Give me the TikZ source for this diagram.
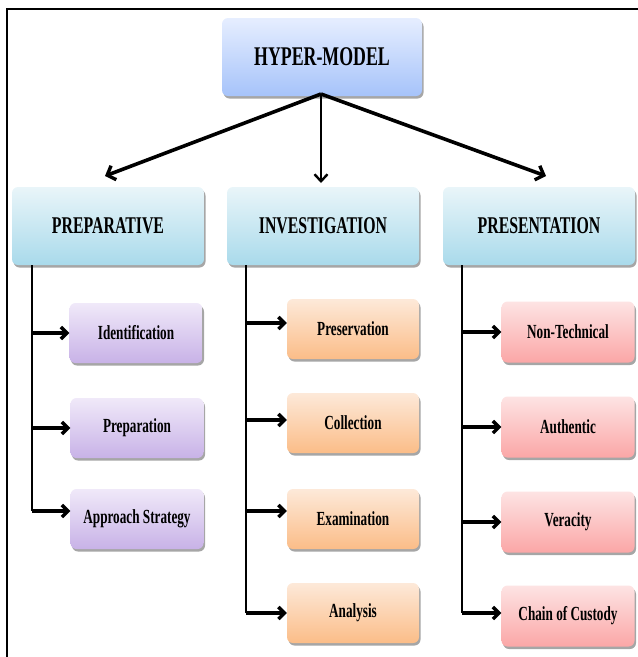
\documentclass[tikz,border=0pt]{standalone}
\usepackage{fontspec}
\setmainfont{Liberation Serif}[FakeStretch=0.66]
\usetikzlibrary{arrows.meta,shadows}
\definecolor{hmT}{HTML}{E6EEFF}\definecolor{hmB}{HTML}{A6C3FA}
\definecolor{lvT}{HTML}{E9F5F9}\definecolor{lvB}{HTML}{A9DAEB}
\definecolor{puT}{HTML}{F0E9F9}\definecolor{puB}{HTML}{C8B2E7}
\definecolor{orT}{HTML}{FDE9D9}\definecolor{orB}{HTML}{FBBD88}
\definecolor{pkT}{HTML}{FDE3E3}\definecolor{pkB}{HTML}{FBA6A6}
\tikzset{
  x=1pt,y=-1pt,
  card/.style={rounded corners=6pt, inner sep=0pt, font=\bfseries,
    drop shadow={shadow xshift=1.5pt, shadow yshift=-2.5pt, fill=black, opacity=0.35}},
  hm/.style={card, top color=hmT, bottom color=hmB, minimum width=200pt, minimum height=78pt, font=\bfseries\fontsize{27}{30}\selectfont},
  lv/.style={card, top color=lvT, bottom color=lvB, minimum width=192pt, minimum height=78pt, font=\bfseries\fontsize{24}{28}\selectfont},
  pu/.style={card, top color=puT, bottom color=puB, minimum width=133pt, minimum height=60pt, font=\bfseries\fontsize{20}{24}\selectfont},
  orb/.style={card, top color=orT, bottom color=orB, minimum width=132pt, minimum height=60pt, font=\bfseries\fontsize{20}{24}\selectfont},
  pk/.style={card, top color=pkT, bottom color=pkB, minimum width=133pt, minimum height=61pt, font=\bfseries\fontsize{20}{24}\selectfont},
  bigarr/.style={line width=3.6pt, -{Straight Barb[length=7pt,width=15pt,line width=3.4pt]}},
  midarr/.style={line width=2.2pt, -{Straight Barb[length=7pt,width=13pt,line width=2.4pt]}},
  harr/.style={line width=3.4pt, -{Straight Barb[length=6pt,width=12pt,line width=3.4pt]}},
  vline/.style={line width=2.4pt},
  frame/.style={line width=2.6pt}
}
\begin{document}
\begin{tikzpicture}
\useasboundingbox (0,0) rectangle (638,657);
% frame
\coordinate (fb) at (7,657);
\coordinate (fc) at (7,9);
\coordinate (fr) at (638,9);
\draw[frame] (fb) -- (fc) -- (fr);

\node[hm] (hm) at (322,57) {HYPER-MODEL};
\node[lv] (prep) at (108,226) {PREPARATIVE};
\node[lv] (inv) at (323,226) {INVESTIGATION};
\node[lv] (pres) at (539,226) {PRESENTATION};

\node[pu] (ide) at (136,333) {Identification};
\node[pu] (pre) at (137,428) {Preparation};
\node[pu] (app) at (137,519) {Approach Strategy};

\node[orb] (prs) at (353,329) {Preservation};
\node[orb] (col) at (353,423) {Collection};
\node[orb] (exa) at (353,519) {Examination};
\node[orb] (ana) at (353,613) {Analysis};

\node[pk] (non) at (568,332) {Non-Technical};
\node[pk] (aut) at (568,427) {Authentic};
\node[pk] (ver) at (568,522) {Veracity};
\node[pk] (coc) at (568,616) {Chain of Custody};

% top arrows
\coordinate (hmo) at (321,94);
\coordinate (tl) at (105,176);
\coordinate (tr) at (546,176);
\draw[bigarr] (hmo) -- (tl);
\draw[midarr] (hmo) -- (321,183);
\draw[bigarr] (hmo) -- (tr);

% branches
\coordinate (p0) at ([xshift=20pt]prep.south west);
\coordinate (i0) at ([xshift=19pt]inv.south west);
\coordinate (r0) at ([xshift=19pt]pres.south west);

\draw[vline] (p0) -- ([yshift=8pt]p0 |- app.west);
\draw[harr] (p0 |- ide.west) -- (ide.west);
\draw[harr] (p0 |- pre.west) -- (pre.west);
\draw[harr] ([yshift=8pt]p0 |- app.west) -- ([yshift=8pt]app.west);

\draw[vline] (i0) -- ([yshift=0pt]i0 |- ana.west);
\draw[harr] ([yshift=6pt]i0 |- prs.west) -- ([yshift=6pt]prs.west);
\draw[harr] ([yshift=3pt]i0 |- col.west) -- ([yshift=3pt]col.west);
\draw[harr] ([yshift=8pt]i0 |- exa.west) -- ([yshift=8pt]exa.west);
\draw[harr] (i0 |- ana.west) -- (ana.west);

\draw[vline] (r0) -- ([yshift=3pt]r0 |- coc.west);
\draw[harr] (r0 |- non.west) -- (non.west);
\draw[harr] (r0 |- aut.west) -- (aut.west);
\draw[harr] (r0 |- ver.west) -- (ver.west);
\draw[harr] ([yshift=3pt]r0 |- coc.west) -- ([yshift=3pt]coc.west);
\end{tikzpicture}
\end{document}
